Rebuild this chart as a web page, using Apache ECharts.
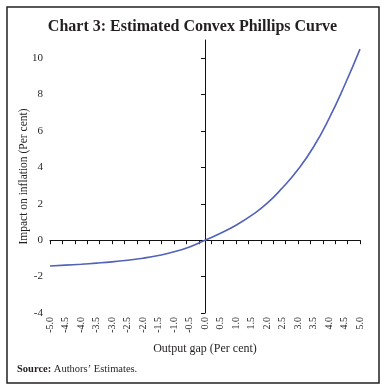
<!DOCTYPE html>
<html>
<head>
<meta charset="utf-8">
<script src="https://cdn.jsdelivr.net/npm/echarts@6/dist/echarts.min.js"></script>
<style>
html,body{margin:0;padding:0;background:#fff;}
#chart{width:385px;height:390px;}
</style>
</head>
<body>
<div id="chart"></div>
<script>
// Output gap (x) and estimated impact on inflation (y)
const outputGap = [-5.0,-4.5,-4.0,-3.5,-3.0,-2.5,-2.0,-1.5,-1.0,-0.5,0.0,0.5,1.0,1.5,2.0,2.5,3.0,3.5,4.0,4.5,5.0];
const inflationImpact = [-1.42,-1.37,-1.32,-1.26,-1.19,-1.10,-0.99,-0.84,-0.64,-0.37,0.00,0.38,0.82,1.36,2.02,2.88,3.88,5.12,6.68,8.50,10.50];
const yTicks = [-4,-2,0,2,4,6,8,10];

const titleText = 'Chart 3: Estimated Convex Phillips Curve';
const xName = 'Output gap (Per cent)';
const yName = 'Impact on inflation (Per cent)';

const FONT = 'Liberation Serif';
const lineColor = '#5262b8';

const chart = echarts.init(document.getElementById('chart'), null, {renderer:'canvas'});
const seriesData = outputGap.map((x,i)=>[x, inflationImpact[i]]);

chart.setOption({
  animation:false,
  backgroundColor:'#fff',
  title:{
    text:titleText, left:'center', top:14,
    textStyle:{fontFamily:FONT, fontWeight:'bold', fontSize:16, color:'#231f20'}
  },
  grid:{left:50, right:25, top:40, bottom:77},
  xAxis:[
    {
      type:'value', min:-5, max:5, interval:0.4,
      axisLine:{show:true, onZero:true, lineStyle:{color:'#111', width:1}},
      axisTick:{show:true, length:4, lineStyle:{color:'#111', width:1}},
      axisLabel:{show:false},
      splitLine:{show:false}
    },
    {
      type:'value', min:-5, max:5, interval:0.5, position:'bottom',
      axisLine:{show:false, onZero:false},
      axisTick:{show:false},
      axisLabel:{show:true, rotate:90, margin:4, fontFamily:FONT, fontSize:10, color:'#231f20',
        formatter:v=>v.toFixed(1)},
      splitLine:{show:false},
      name:xName, nameLocation:'middle', nameGap:30, nameMoveOverlap:false,
      nameTextStyle:{fontFamily:FONT, fontSize:12, color:'#231f20'}
    }
  ],
  yAxis:[
    {
      type:'value', min:-4, max:11, interval:2,
      axisLine:{show:true, onZero:true, lineStyle:{color:'#111', width:1}},
      axisTick:{show:true, length:4, customValues:yTicks, lineStyle:{color:'#111', width:1}},
      axisLabel:{show:false},
      splitLine:{show:false}
    },
    {
      type:'value', min:-4, max:11, interval:2, position:'left',
      axisLine:{show:false, onZero:false},
      axisTick:{show:false},
      axisLabel:{show:true, margin:7, fontFamily:FONT, fontSize:11, color:'#231f20', customValues:yTicks},
      splitLine:{show:false},
      name:yName, nameLocation:'middle', nameGap:20, nameMoveOverlap:false,
      nameTextStyle:{fontFamily:FONT, fontSize:11.5, color:'#231f20'}
    }
  ],
  series:[{
    type:'line', xAxisIndex:0, yAxisIndex:0,
    data:seriesData, showSymbol:false, smooth:true,
    lineStyle:{color:lineColor, width:1.6}
  }],
  graphic:[
    {type:'rect', shape:{x:7, y:7, width:372, height:376},
     style:{fill:'none', stroke:'#231f20', lineWidth:1.5}, silent:true},
    {type:'text', left:17, top:364,
     style:{text:'{b|Source:} Authors\u2019 Estimates.',
       rich:{b:{fontWeight:'bold', fontFamily:FONT, fontSize:10.5, fill:'#231f20'}},
       font:'10.5px "Liberation Serif"', fill:'#231f20'}}
  ]
});
</script>
</body>
</html>
